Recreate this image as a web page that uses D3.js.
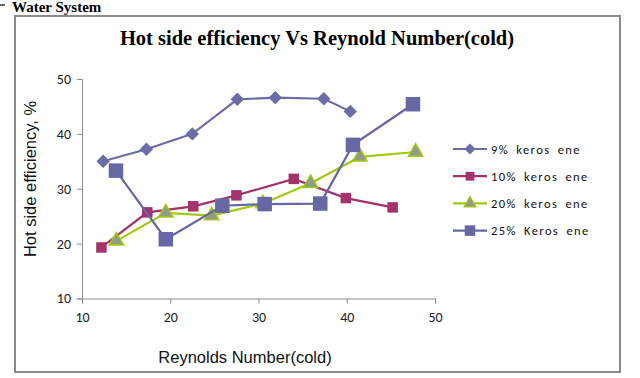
<!DOCTYPE html>
<html>
<head>
<meta charset="utf-8">
<script src="https://cdn.jsdelivr.net/npm/d3@7"></script>
<style>
  body { margin: 0; background: #fff; }
  svg { display: block; }
</style>
</head>
<body>
<div id="chart"></div>
<script>
// series data: [Reynolds number (cold), efficiency %]
const kero9 = [[12.4, 35.0], [17.3, 37.2], [22.5, 40.0], [27.6, 46.3], [31.9, 46.6], [37.4, 46.4], [40.4, 44.1]];
const kero10 = [[12.2, 19.3], [17.4, 25.7], [22.6, 26.8], [27.5, 28.8], [34.0, 31.8], [39.9, 28.3], [45.2, 26.6]];
const kero20 = [[13.9, 20.5], [19.5, 25.6], [24.7, 25.1], [30.5, 27.3], [35.9, 31.0], [41.5, 35.8], [47.8, 36.7]];
const kero25 = [[13.85, 33.3], [19.5, 20.8], [25.9, 26.9], [30.7, 27.2], [37.0, 27.3], [40.7, 38.0], [47.5, 45.4]];

const seriesNames = ["9% keros ene", "10% keros ene", "20% keros ene", "25% Keros ene"];
const xTicks = [10, 20, 30, 40, 50];
const yTicks = [10, 20, 30, 40, 50];

// diamond drawn as a square turned 45 degrees, like the spreadsheet marker
const diamond = {
  draw(ctx, size) {
    const r = Math.sqrt(size / 2);
    ctx.moveTo(0, -r); ctx.lineTo(r, 0); ctx.lineTo(0, r); ctx.lineTo(-r, 0); ctx.closePath();
  }
};

const series = [
  { name: seriesNames[0], values: kero9, line: "#6c6ca6", fill: "#6c6ca6", stroke: "none", shape: diamond, size: 90 },
  { name: seriesNames[1], values: kero10, line: "#a3336a", fill: "#a3336a", stroke: "none", shape: d3.symbolSquare, size: 110 },
  { name: seriesNames[2], values: kero20, line: "#9fcc10", fill: "#93998a", stroke: "#9fcc10", shape: d3.symbolTriangle, size: 90 },
  { name: seriesNames[3], values: kero25, line: "#6767a6", fill: "#6767a6", stroke: "none", shape: d3.symbolSquare, size: 210 }
];

const width = 640, height = 378;
const margin = { top: 79, right: 205, bottom: 80, left: 82 };

const svg = d3.select("#chart")
  .append("svg")
  .attr("width", width)
  .attr("height", height);

// chart border
svg.append("rect")
  .attr("x", 15)
  .attr("y", 16)
  .attr("width", 605)
  .attr("height", 356)
  .attr("fill", "#fff")
  .attr("stroke", "#8a8a8a")
  .attr("stroke-width", 2);

// heading from the page above the chart
svg.append("text")
  .attr("x", 12)
  .attr("y", 12)
  .attr("font-family", "Liberation Serif, serif")
  .attr("font-weight", "bold")
  .attr("font-size", 15)
  .text("Water System");

svg.append("line")
  .attr("x1", 0).attr("x2", 5)
  .attr("y1", 5).attr("y2", 5)
  .attr("stroke", "#333")
  .attr("stroke-width", 1.5);

// title
svg.append("text")
  .attr("x", 317)
  .attr("y", 45)
  .attr("text-anchor", "middle")
  .attr("font-family", "Liberation Serif, serif")
  .attr("font-weight", "bold")
  .attr("font-size", 20.5)
  .text("Hot side efficiency Vs Reynold Number(cold)");

const x = d3.scaleLinear()
  .domain([10, 50])
  .range([margin.left, 435]);

const y = d3.scaleLinear()
  .domain([10, 50])
  .range([298.5, margin.top]);

// axes
const xAxis = svg.append("g")
  .attr("transform", `translate(0,${y(10)})`)
  .call(d3.axisBottom(x).tickValues(xTicks).tickSize(5).tickPadding(9));

const yAxis = svg.append("g")
  .attr("transform", `translate(${x(10)},0)`)
  .call(d3.axisLeft(y).tickValues(yTicks).tickSize(5).tickPadding(6));

[xAxis, yAxis].forEach(g => {
  g.selectAll("path, line").attr("stroke", "#8c8c8c");
  g.selectAll("text")
    .attr("fill", "#222")
    .attr("font-family", "Carlito, Lato, sans-serif")
    .attr("font-size", 14);
});

// axis titles
svg.append("text")
  .attr("x", 245)
  .attr("y", 363)
  .attr("text-anchor", "middle")
  .attr("font-family", "Liberation Sans, Arial, sans-serif")
  .attr("font-size", 16.5)
  .attr("fill", "#111")
  .text("Reynolds Number(cold)");

svg.append("text")
  .attr("x", -179)
  .attr("y", 36)
  .attr("transform", "rotate(-90)")
  .attr("text-anchor", "middle")
  .attr("font-family", "Liberation Sans, Arial, sans-serif")
  .attr("font-size", 16.5)
  .attr("fill", "#111")
  .text("Hot side efficiency, %");

// lines and markers
const line = d3.line()
  .x(d => x(d[0]))
  .y(d => y(d[1]));

series.forEach(s => {
  svg.append("path")
    .datum(s.values)
    .attr("d", line)
    .attr("fill", "none")
    .attr("stroke", s.line)
    .attr("stroke-width", 2.2);

  svg.selectAll(null)
    .data(s.values)
    .enter()
    .append("path")
    .attr("transform", d => `translate(${x(d[0])},${y(d[1])})`)
    .attr("d", d3.symbol().type(s.shape).size(s.size))
    .attr("fill", s.fill)
    .attr("stroke", s.stroke)
    .attr("stroke-width", 1.5);
});

// legend
const legend = svg.append("g")
  .attr("transform", "translate(453,149)");

series.forEach((s, i) => {
  const row = legend.append("g").attr("transform", `translate(0,${i * 27.2})`);
  row.append("line")
    .attr("x1", 0).attr("x2", 34)
    .attr("stroke", s.line)
    .attr("stroke-width", 2.2);
  row.append("path")
    .attr("transform", "translate(17,0)")
    .attr("d", d3.symbol().type(s.shape).size(i === 3 ? 110 : s.size * 0.7))
    .attr("fill", s.fill)
    .attr("stroke", s.stroke)
    .attr("stroke-width", 1.2);
  row.append("text")
    .attr("x", 38)
    .attr("y", 4.5)
    .attr("font-family", "Carlito, Lato, sans-serif")
    .attr("font-size", 12.5)
    .attr("letter-spacing", 1.4)
    .attr("word-spacing", 3)
    .attr("fill", "#111")
    .text(s.name);
});
</script>
</body>
</html>
